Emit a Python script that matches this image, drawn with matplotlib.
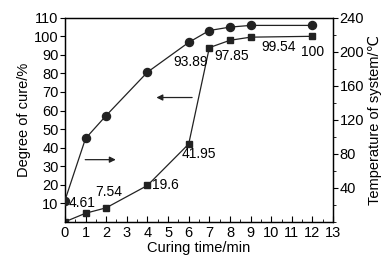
import numpy as np
import matplotlib
matplotlib.use("Agg")
import matplotlib.pyplot as plt
from matplotlib.ticker import MultipleLocator

plt.rcParams['font.family'] = ['Liberation Sans', 'DejaVu Sans']
plt.rcParams['font.size'] = 10

# data
time_sq = [0, 1, 2, 4, 6, 7, 8, 9, 12]
cure = [0, 4.61, 7.54, 19.6, 41.95, 93.89, 97.85, 99.54, 100]
cure_labels = ['', '4.61', '7.54', '19.6', '41.95', '93.89', '97.85', '99.54', '100']

time_c = [0, 1, 2, 4, 6, 7, 8, 9, 12]
temp = [25, 98, 125, 176, 211, 225, 229, 231, 231]

fig = plt.figure(figsize=(3.91, 2.65), dpi=100)
ax = fig.add_axes([0.166, 0.163, 0.686, 0.77])
ax2 = ax.twinx()

ax.plot(time_sq, cure, color='#222222', lw=0.9, marker='s', ms=5, zorder=3)
ax2.plot(time_c, temp, color='#222222', lw=0.9, marker='o', ms=5.8, zorder=3)

# value labels: (dx, dy) in points from the marker, left edge of text
offsets = [(0, 0), (-12.5, 7.5), (-8, 11.5), (3, 0), (-5, -7), (-26, -10), (-11, -11), (8, -7), (-8.6, -11)]
for x, y, s, (dx, dy) in zip(time_sq, cure, cure_labels, offsets):
    if s:
        ax.annotate(s, (x, y), xytext=(dx, dy), textcoords='offset points',
                    ha='left', va='center', fontsize=10)

# direction arrows
ax.annotate('', xy=(4.3, 67), xytext=(6.3, 67),
            arrowprops=dict(arrowstyle='-|>', color='#222222', lw=0.9, mutation_scale=9))
ax.annotate('', xy=(2.6, 33.5), xytext=(0.85, 33.5),
            arrowprops=dict(arrowstyle='-|>', color='#222222', lw=0.9, mutation_scale=9))

ax.set_xlim(0, 13)
ax.set_ylim(0, 110)
ax2.set_ylim(0, 240)

ax.xaxis.set_major_locator(MultipleLocator(1))
ax.xaxis.set_minor_locator(MultipleLocator(0.5))
ax2.yaxis.set_minor_locator(MultipleLocator(20))

ax.set_yticks(np.arange(10, 111, 10))
ax2.set_yticks(np.arange(40, 241, 40))

ax.tick_params(axis='x', direction='in', length=4, labelsize=10.5, pad=3)
ax.tick_params(axis='x', which='minor', direction='in', length=2)
ax.tick_params(axis='y', direction='out', length=3.5, labelsize=10.5, pad=1)
ax2.tick_params(axis='y', direction='out', length=3.5, labelsize=10.5, pad=1)
ax2.tick_params(axis='y', which='minor', direction='out', length=2)

for a in (ax, ax2):
    for sp in a.spines.values():
        sp.set_linewidth(0.9)

ax.set_xlabel('Curing time/min', fontsize=10.5, labelpad=1)
ax.set_ylabel('Degree of cure/%', fontsize=10.5, labelpad=2)
ax2.set_ylabel('Temperature of system/\u2103', fontsize=10.5, labelpad=3)

fig.savefig('out.png', dpi=100)
